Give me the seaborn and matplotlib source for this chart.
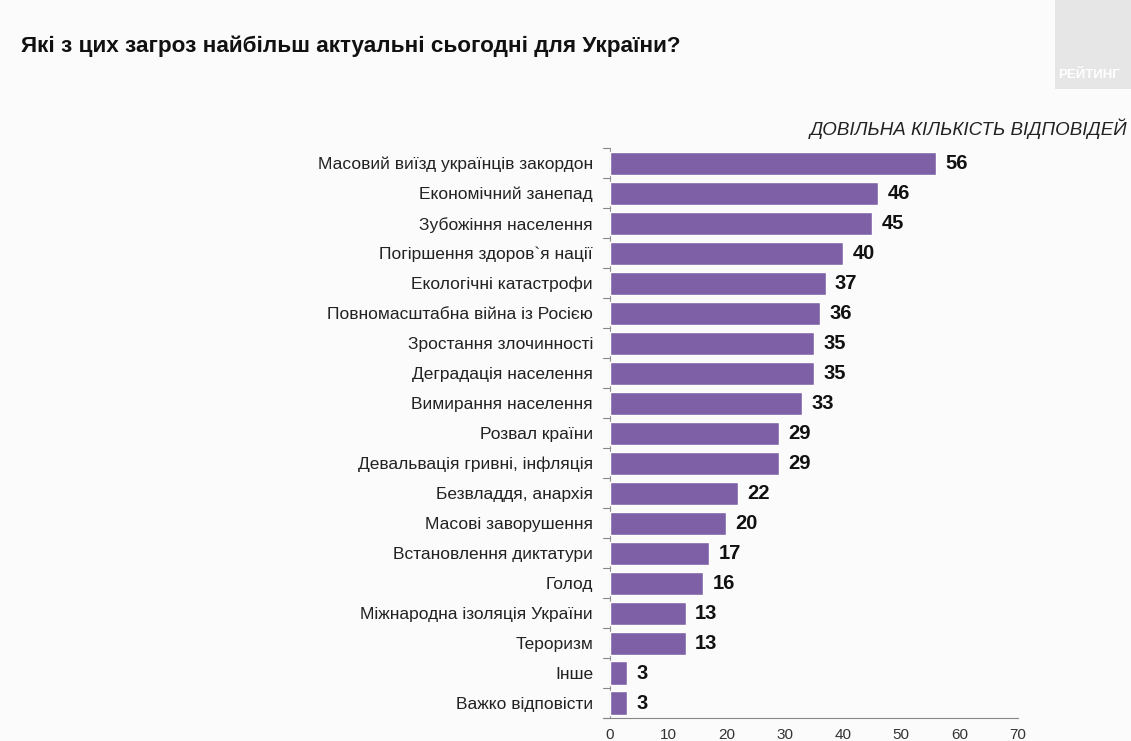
import matplotlib
matplotlib.use("Agg")
import matplotlib.pyplot as plt
import seaborn as sns
import pandas as pd
from matplotlib.patches import Rectangle

categories = [
    "Масовий виїзд українців закордон",
    "Економічний занепад",
    "Зубожіння населення",
    "Погіршення здоров`я нації",
    "Екологічні катастрофи",
    "Повномасштабна війна із Росією",
    "Зростання злочинності",
    "Деградація населення",
    "Вимирання населення",
    "Розвал країни",
    "Девальвація гривні, інфляція",
    "Безвладдя, анархія",
    "Масові заворушення",
    "Встановлення диктатури",
    "Голод",
    "Міжнародна ізоляція України",
    "Тероризм",
    "Інше",
    "Важко відповісти",
]
values = [56, 46, 45, 40, 37, 36, 35, 35, 33, 29, 29, 22, 20, 17, 16, 13, 13, 3, 3]
x_ticks = [0, 10, 20, 30, 40, 50, 60, 70]

title = "Які з цих загроз найбільш актуальні сьогодні для України?"
subtitle = "ДОВІЛЬНА КІЛЬКІСТЬ ВІДПОВІДЕЙ"
logo_text = "РЕЙТИНГ"

sns.set_theme(style="white")
plt.rcParams["font.family"] = ["Liberation Sans", "DejaVu Sans"]

df = pd.DataFrame({"cat": categories, "val": values})

fig = plt.figure(figsize=(11.31, 7.41), dpi=100)
fig.patch.set_facecolor("#fbfbfb")
ax = fig.add_axes([0.533, 0.031, 0.367, 0.769])
ax.set_facecolor("none")

sns.barplot(data=df, x="val", y="cat", color="#7d60a5", saturation=1,
            width=0.77, ax=ax, orient="h")

for i, v in enumerate(values):
    ax.text(v + 1.6, i, str(v), va="center", ha="left", fontsize=14.5,
            fontweight="bold", color="#111111")

ax.set_xlim(-1.2, 70)
ax.set_ylim(len(categories) - 0.5, -0.5)
ax.set_xticks(x_ticks)
ax.set_xlabel("")
ax.set_ylabel("")
ax.tick_params(axis="x", labelsize=11, colors="#333333", length=5, width=0.8,
               direction="out", pad=2)
ax.tick_params(axis="y", labelsize=12.5, colors="#222222", length=0, pad=7)

for s in ["top", "right"]:
    ax.spines[s].set_visible(False)
ax.spines["left"].set_visible(False)
ax.spines["bottom"].set_color("#888888")
ax.spines["bottom"].set_linewidth(0.8)

# category boundary ticks along y axis at x=0
ax.axvline(0, color="#999999", lw=0.8, zorder=0)
for b in range(len(categories) + 1):
    ax.plot([-1.2, 0], [b - 0.5, b - 0.5], color="#888888", lw=0.8,
            clip_on=False, zorder=0)

fig.text(0.019, 0.938, title, fontsize=16.2, fontweight="bold", color="#111111",
         ha="left", va="center")
fig.text(0.997, 0.827, subtitle, fontsize=13.5, fontstyle="italic", color="#222222",
         ha="right", va="center")

fig.patches.append(Rectangle((0.933, 0.88), 0.07, 0.12, transform=fig.transFigure,
                             facecolor="#e6e6e6", edgecolor="none", zorder=0))
fig.text(0.936, 0.899, logo_text, fontsize=9.5, fontweight="bold", color="white",
         ha="left", va="center")

fig.savefig("out.png", dpi=100, facecolor=fig.get_facecolor())
